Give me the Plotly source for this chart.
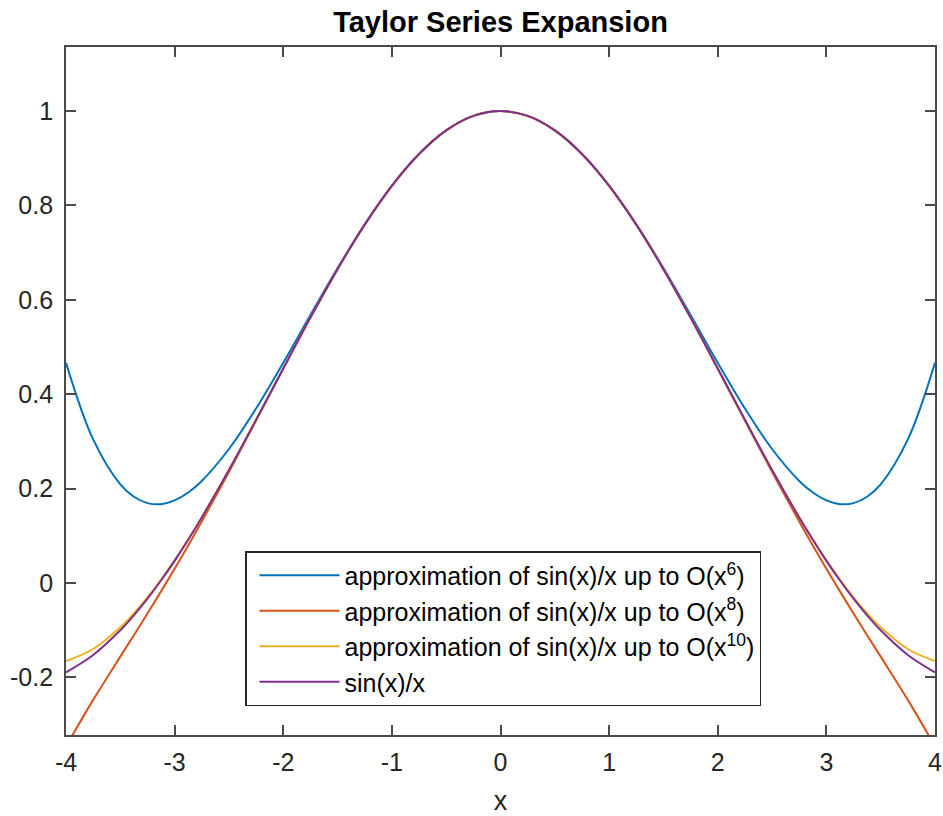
import plotly.graph_objects as go

x_vals = [-4.0, -3.75, -3.5, -3.375, -3.25, -3.125, -3.0, -2.875, -2.75, -2.5, -2.25, -2.0, -1.75, -1.5, -1.25, -1.0, -0.75, -0.5, -0.25,
          0.0,
          0.25, 0.5, 0.75, 1.0, 1.25, 1.5, 1.75, 2.0, 2.25, 2.5, 2.75, 2.875, 3.0, 3.125, 3.25, 3.375, 3.5, 3.75, 4.0]

approx_o6 = [0.4667, 0.3042, 0.2089, 0.1828, 0.1693, 0.1671, 0.1750, 0.1917, 0.2162, 0.2839, 0.3698, 0.4667, 0.5677, 0.6672, 0.7599, 0.8417, 0.9089, 0.9589, 0.9896,
             1.0,
             0.9896, 0.9589, 0.9089, 0.8417, 0.7599, 0.6672, 0.5677, 0.4667, 0.3698, 0.2839, 0.2162, 0.1917, 0.1750, 0.1671, 0.1693, 0.1828, 0.2089, 0.3042, 0.4667]

approx_o8 = [-0.3460, -0.2476, -0.1559, -0.1105, -0.0645, -0.0177, 0.0304, 0.0797, 0.1304, 0.2354, 0.3441, 0.4540, 0.5620, 0.6649, 0.7592, 0.8415, 0.9089, 0.9589, 0.9896,
             1.0,
             0.9896, 0.9589, 0.9089, 0.8415, 0.7592, 0.6649, 0.5620, 0.4540, 0.3441, 0.2354, 0.1304, 0.0797, 0.0304, -0.0177, -0.0645, -0.1105, -0.1559, -0.2476, -0.3460]

approx_o10 = [-0.1654, -0.1398, -0.0938, -0.0641, -0.0302, 0.0074, 0.0484, 0.0926, 0.1394, 0.2396, 0.3459, 0.4547, 0.5623, 0.6650, 0.7592, 0.8415, 0.9089, 0.9589, 0.9896,
              1.0,
              0.9896, 0.9589, 0.9089, 0.8415, 0.7592, 0.6650, 0.5623, 0.4547, 0.3459, 0.2396, 0.1394, 0.0926, 0.0484, 0.0074, -0.0302, -0.0641, -0.0938, -0.1398, -0.1654]

sinc_vals = [-0.1892, -0.1524, -0.1002, -0.0685, -0.0333, 0.0053, 0.0470, 0.0916, 0.1388, 0.2394, 0.3458, 0.4546, 0.5623, 0.6650, 0.7592, 0.8415, 0.9089, 0.9589, 0.9896,
             1.0,
             0.9896, 0.9589, 0.9089, 0.8415, 0.7592, 0.6650, 0.5623, 0.4546, 0.3458, 0.2394, 0.1388, 0.0916, 0.0470, 0.0053, -0.0333, -0.0685, -0.1002, -0.1524, -0.1892]

series_names = [
    "approximation of sin(x)/x up to O(x<sup>6</sup>)",
    "approximation of sin(x)/x up to O(x<sup>8</sup>)",
    "approximation of sin(x)/x up to O(x<sup>10</sup>)",
    "sin(x)/x",
]
series_values = [approx_o6, approx_o8, approx_o10, sinc_vals]
colors = ["#0072BD", "#D95319", "#EDB120", "#7E2F8E"]

x_ticks = [-4, -3, -2, -1, 0, 1, 2, 3, 4]
y_ticks = [-0.2, 0, 0.2, 0.4, 0.6, 0.8, 1]
y_tick_labels = ["-0.2", "0", "0.2", "0.4", "0.6", "0.8", "1"]

FONT = "Liberation Sans, Arial, Helvetica, sans-serif"

fig = go.Figure()
for name, vals, c in zip(series_names, series_values, colors):
    fig.add_trace(go.Scatter(x=x_vals, y=vals, mode="lines", name=name,
                             line=dict(color=c, width=2, shape="spline", smoothing=1.0)))

axis_common = dict(showline=True, linecolor="#4a4a4a", linewidth=1.8, mirror="ticks",
                   ticks="inside", ticklen=10, tickcolor="#4a4a4a", tickwidth=1.8,
                   showgrid=False, zeroline=False,
                   tickfont=dict(family=FONT, size=25, color="#262626"))

fig.update_xaxes(range=[-4, 4], tickvals=x_ticks, ticktext=[str(t) for t in x_ticks],
                 ticklabelstandoff=4,
                 title=dict(text="x", font=dict(family=FONT, size=27, color="#262626"), standoff=31),
                 **axis_common)
fig.update_yaxes(range=[-0.322, 1.1356], tickvals=y_ticks, ticktext=y_tick_labels,
                 ticklabelstandoff=6, **axis_common)

fig.update_layout(
    width=943, height=816,
    margin=dict(l=66, r=8, t=47, b=81, autoexpand=False),
    paper_bgcolor="white", plot_bgcolor="white",
    title=dict(text="<b>Taylor Series Expansion</b>", x=(66 + 935) / 2 / 943, xanchor="center",
               y=1 - 22 / 816, yanchor="middle",
               font=dict(family=FONT, size=29, color="#000000")),
    legend=dict(x=(245 - 66) / 869, y=(735 - 551) / 688, xanchor="left", yanchor="top",
                bgcolor="white", bordercolor="#262626", borderwidth=1.5,
                font=dict(family=FONT, size=25, color="#000000"),
                itemwidth=80, indentation=8, tracegroupgap=0),
    showlegend=True,
)

# remove the browser's default 8px body margin so the figure sits at the window's top-left
fig.write_html("out.html", config={"displayModeBar": False},
               post_script="document.body.style.margin='0';")
